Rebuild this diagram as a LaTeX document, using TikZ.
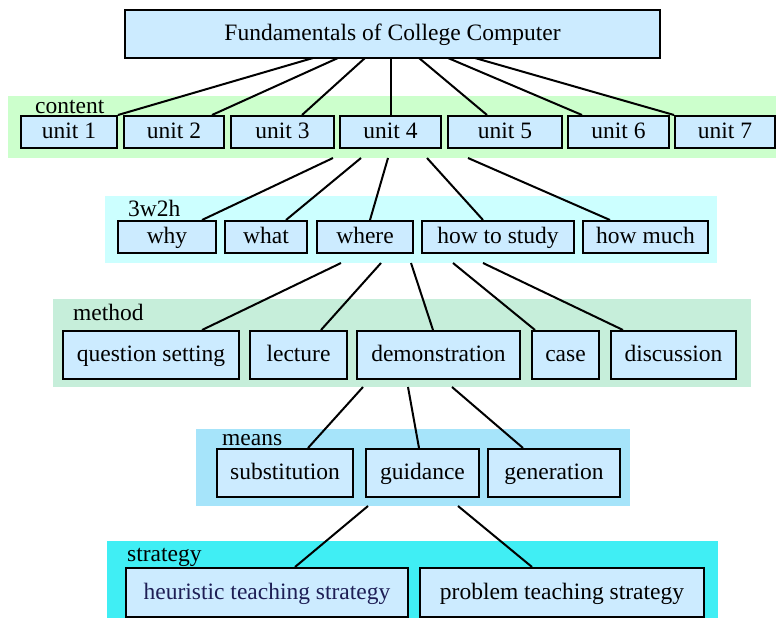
\documentclass[tikz,border=0pt]{standalone}
\usepackage{fontspec}
\setmainfont{Liberation Serif}
\definecolor{boxfill}{RGB}{204,235,255}
\definecolor{bandA}{RGB}{204,255,204}
\definecolor{bandB}{RGB}{204,255,255}
\definecolor{bandC}{RGB}{198,238,218}
\definecolor{bandD}{RGB}{166,228,250}
\definecolor{bandE}{RGB}{64,238,244}
\definecolor{navytext}{RGB}{30,30,85}
\tikzset{
  box/.style={draw=black, line width=2pt, fill=boxfill, inner sep=0pt,
    font=\fontsize{23.5}{28}\selectfont, text height=17pt, text depth=3.2pt},
  bandlabel/.style={anchor=base west, inner sep=0pt, font=\fontsize{23.5}{28}\selectfont},
  link/.style={draw=black, line width=2pt},
}
\newcommand{\mybox}[6]{%
  \node[box, minimum width={#4pt-#2pt}, minimum height={#5pt-#3pt}] (#1) at ({(#2+#4)/2},{(#3+#5)/2}) {#6};}
\begin{document}
\begin{tikzpicture}[x=1pt,y=-1pt]
\useasboundingbox (0,0) rectangle (776,618);
% bands
\fill[bandA] (8,96) rectangle (776,158);
\fill[bandB] (105,196) rectangle (717,263);
\fill[bandC] (53,299) rectangle (751,387);
\fill[bandD] (196,429) rectangle (630,506);
\fill[bandE] (107,541) rectangle (718,618);
\node[bandlabel] (lcontent) at (35,113) {content};
\node[bandlabel] (l3w2h) at (128,216) {3w2h};
\node[bandlabel] (lmethod) at (73,320) {method};
\node[bandlabel] (lmeans) at (222,445) {means};
\node[bandlabel] (lstrategy) at (127,561) {strategy};
% boxes
\mybox{title}{125}{10}{660}{58}{Fundamentals of College Computer}
\mybox{u1}{21}{116}{117}{148}{unit 1}
\mybox{u2}{124}{116}{224}{148}{unit 2}
\mybox{u3}{231}{116}{334}{148}{unit 3}
\mybox{u4}{340}{116}{441}{148}{unit 4}
\mybox{u5}{448}{116}{562}{148}{unit 5}
\mybox{u6}{568}{116}{669}{148}{unit 6}
\mybox{u7}{675}{116}{775}{148}{unit 7}
\mybox{why}{118}{221}{216}{253}{why}
\mybox{what}{225}{221}{307}{253}{what}
\mybox{where}{317}{221}{413}{253}{where}
\mybox{howto}{422}{221}{574}{253}{how to study}
\mybox{howmuch}{583}{221}{708}{253}{how much}
\mybox{qs}{63}{331}{239}{379}{question setting}
\mybox{lect}{250}{331}{347}{379}{lecture}
\mybox{demo}{357}{331}{520}{379}{demonstration}
\mybox{case}{532}{331}{599}{379}{case}
\mybox{disc}{611}{331}{736}{379}{discussion}
\mybox{subst}{217}{449}{353}{497}{substitution}
\mybox{guid}{366}{449}{479}{497}{guidance}
\mybox{gen}{488}{449}{620}{497}{generation}
\mybox{heur}{126}{568}{408}{617}{\textcolor{navytext}{heuristic teaching strategy}}
\mybox{prob}{420}{568}{704}{617}{problem teaching strategy}
% connector start points
\coordinate (t1) at (313,58); \coordinate (t2) at (338,58); \coordinate (t3) at (365,58);
\coordinate (t4) at (391,58); \coordinate (t5) at (419,58); \coordinate (t6) at (448,58);
\coordinate (t7) at (475,58);
\coordinate (a1) at (333,158); \coordinate (a2) at (361,158); \coordinate (a3) at (388,158);
\coordinate (a4) at (427,158); \coordinate (a5) at (468,158);
\coordinate (b1) at (341,263); \coordinate (b2) at (381,263); \coordinate (b3) at (411,263);
\coordinate (b4) at (453,263); \coordinate (b5) at (483,263);
\coordinate (c1) at (363,387); \coordinate (c2) at (408,387); \coordinate (c3) at (452,387);
\coordinate (d1) at (368,506); \coordinate (d2) at (458,506);
% connectors
\draw[link] (t1) -- (u1.north east);
\draw[link] (t2) -- (u2.north -| 212,0);
\draw[link] (t3) -- (u3.north -| 302,0);
\draw[link] (t4) -- (u4.north -| 391,0);
\draw[link] (t5) -- (u5.north -| 487,0);
\draw[link] (t6) -- (u6.north -| 582,0);
\draw[link] (t7) -- (u7.north west);
\draw[link] (a1) -- (why.north -| 202,0);
\draw[link] (a2) -- (what.north -| 286,0);
\draw[link] (a3) -- (where.north -| 370,0);
\draw[link] (a4) -- (howto.north -| 483,0);
\draw[link] (a5) -- (howmuch.north -| 610,0);
\draw[link] (b1) -- (qs.north -| 202,0);
\draw[link] (b2) -- (lect.north -| 321,0);
\draw[link] (b3) -- (demo.north -| 433,0);
\draw[link] (b4) -- (case.north -| 535,0);
\draw[link] (b5) -- (disc.north -| 623,0);
\draw[link] (c1) -- (subst.north -| 308,0);
\draw[link] (c2) -- (guid.north -| 419,0);
\draw[link] (c3) -- (gen.north -| 523,0);
\draw[link] (d1) -- (heur.north -| 295,0);
\draw[link] (d2) -- (prob.north -| 532,0);
\end{tikzpicture}
\end{document}
